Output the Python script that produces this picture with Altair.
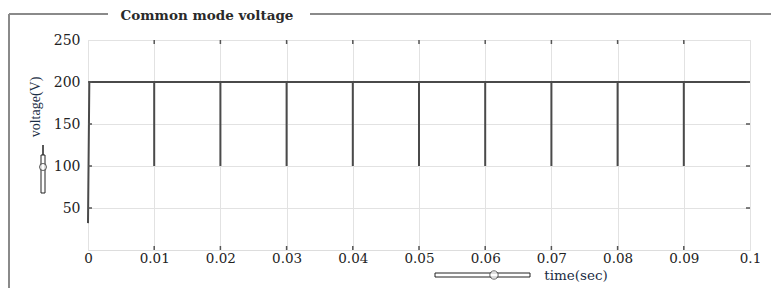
import altair as alt
import pandas as pd

# ---- data ----
time_s = [0.0, 0.0002,
          0.01, 0.01, 0.01,
          0.02, 0.02, 0.02,
          0.03, 0.03, 0.03,
          0.04, 0.04, 0.04,
          0.05, 0.05, 0.05,
          0.06, 0.06, 0.06,
          0.07, 0.07, 0.07,
          0.08, 0.08, 0.08,
          0.09, 0.09, 0.09,
          0.1]
voltage = [32, 200,
           200, 100, 200,
           200, 100, 200,
           200, 100, 200,
           200, 100, 200,
           200, 100, 200,
           200, 100, 200,
           200, 100, 200,
           200, 100, 200,
           200, 100, 200,
           200]
x_ticks = [0, 0.01, 0.02, 0.03, 0.04, 0.05, 0.06, 0.07, 0.08, 0.09, 0.1]
y_ticks = [50, 100, 150, 200, 250]
inner_x_ticks = x_ticks[1:-1]
inner_y_ticks = y_ticks[:-1]

W, H = 662, 210
PAD_L, PAD_T = 80, 32
SVG_W, SVG_H = 763, 284

df = pd.DataFrame({"t": time_s, "v": voltage, "i": list(range(len(time_s)))})
xs = alt.Scale(domain=[0, 0.1], nice=False, zero=False)
ys = alt.Scale(domain=[0, 250], nice=False)

line = alt.Chart(df).mark_line(color="#4a4a4a", strokeWidth=2).encode(
    x=alt.X("t:Q", scale=xs, axis=alt.Axis(
        values=x_ticks, format=".2~f", title=None, labelFlush=False,
        labelOverlap=False, labelFont="DejaVu Serif", labelFontSize=13.5,
        labelColor="#222", labelPadding=1, ticks=False, domain=False,
        grid=True, gridColor="#e2e2e2", gridWidth=1)),
    y=alt.Y("v:Q", scale=ys, axis=alt.Axis(
        values=y_ticks, title=None, labelFont="DejaVu Serif", labelFontSize=14,
        labelColor="#222", labelPadding=8, ticks=False, domain=False,
        grid=True, gridColor="#e2e2e2", gridWidth=1)),
    order="i:Q",
)

xt = pd.DataFrame({"t": inner_x_ticks})
yt = pd.DataFrame({"v": inner_y_ticks})
tick_style = dict(color="#555", strokeWidth=1.5)
xtick_bottom = alt.Chart(xt).mark_rule(**tick_style).encode(
    x=alt.X("t:Q", scale=xs), y=alt.value(H), y2=alt.value(H - 4))
xtick_top = alt.Chart(xt).mark_rule(**tick_style).encode(
    x=alt.X("t:Q", scale=xs), y=alt.value(0), y2=alt.value(4))
ytick_left = alt.Chart(yt).mark_rule(**tick_style).encode(
    y=alt.Y("v:Q", scale=ys), x=alt.value(0), x2=alt.value(4))
ytick_right = alt.Chart(yt).mark_rule(**tick_style).encode(
    y=alt.Y("v:Q", scale=ys), x=alt.value(W), x2=alt.value(W - 4))

one = alt.Data(values=[{}])
frame_style = dict(color="#8a8a8a", strokeWidth=2)
frame_left = alt.Chart(one).mark_rule(**frame_style).encode(
    x=alt.value(-PAD_L + 1), y=alt.value(-26), y2=alt.value(SVG_H - PAD_T))
frame_top1 = alt.Chart(one).mark_rule(**frame_style).encode(
    x=alt.value(-PAD_L + 1), x2=alt.value(20), y=alt.value(-26))
frame_top2 = alt.Chart(one).mark_rule(**frame_style).encode(
    x=alt.value(222), x2=alt.value(SVG_W - PAD_L), y=alt.value(-26))

title = alt.Chart(one).mark_text(
    text="Common mode voltage", font="DejaVu Serif", fontSize=13.5,
    fontWeight="bold", color="#2a2a2a", align="center", baseline="middle"
).encode(x=alt.value(119), y=alt.value(-24))

ytitle = alt.Chart(one).mark_text(
    text="voltage(V)", font="Liberation Serif", fontSize=14, angle=270,
    color="#1b2d45", align="center", baseline="middle"
).encode(x=alt.value(-52), y=alt.value(67))

xtitle = alt.Chart(one).mark_text(
    text="time(sec)", font="DejaVu Serif", fontSize=13.5,
    color="#1b2d45", align="center", baseline="alphabetic"
).encode(x=alt.value(488), y=alt.value(240))

# decorative arrow glyphs next to the axis titles
deco = dict(stroke="#222", strokeWidth=1, fill="white")
harrow = alt.Chart(one).mark_rect(**deco).encode(
    x=alt.value(347), x2=alt.value(442), y=alt.value(233), y2=alt.value(237))
hbulge = alt.Chart(one).mark_point(shape="circle", size=70, filled=True,
    fill="white", stroke="#222", strokeWidth=1).encode(
    x=alt.value(406), y=alt.value(235))
varrow = alt.Chart(one).mark_rect(**deco).encode(
    x=alt.value(-47), x2=alt.value(-43), y=alt.value(115), y2=alt.value(153))
vline = alt.Chart(one).mark_rule(color="#222", strokeWidth=1.5).encode(
    x=alt.value(-45), y=alt.value(105), y2=alt.value(115))
vbulge = alt.Chart(one).mark_point(shape="circle", size=50, filled=True,
    fill="white", stroke="#222", strokeWidth=1).encode(
    x=alt.value(-45), y=alt.value(127))

chart = alt.layer(
    line, xtick_bottom, xtick_top, ytick_left, ytick_right,
    frame_left, frame_top1, frame_top2, title, ytitle, xtitle,
    harrow, hbulge, varrow, vline, vbulge,
).properties(
    width=W, height=H,
    autosize=alt.AutoSizeParams(type="none"),
    padding={"left": PAD_L, "top": PAD_T,
             "right": SVG_W - PAD_L - W, "bottom": SVG_H - PAD_T - H},
).configure_view(stroke="#8a8a8a", strokeWidth=2).configure(background="white")

chart.save("out.html", embed_options={"renderer": "svg", "actions": False})
